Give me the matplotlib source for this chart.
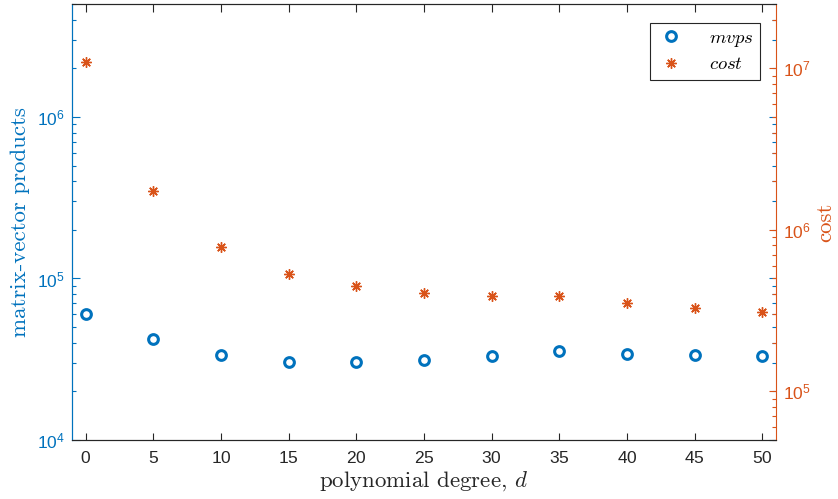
import numpy as np
import matplotlib
matplotlib.use("Agg")
import matplotlib.pyplot as plt
from matplotlib import ticker

# ---------------- dados ----------------
degree = [0, 5, 10, 15, 20, 25, 30, 35, 40, 45, 50]
mvps = [6.02e4, 4.20e4, 3.34e4, 3.04e4, 3.03e4, 3.14e4, 3.31e4, 3.55e4, 3.42e4, 3.37e4, 3.31e4]
cost = [1.09e7, 1.73e6, 7.86e5, 5.33e5, 4.49e5, 4.04e5, 3.89e5, 3.87e5, 3.52e5, 3.29e5, 3.10e5]

BLUE = '#0072BD'
ORANGE = '#D95319'
DARK = '#262626'

plt.rcParams['font.family'] = ['Liberation Sans', 'DejaVu Sans']
plt.rcParams['mathtext.fontset'] = 'cm'
plt.rcParams['axes.formatter.use_mathtext'] = True

fig = plt.figure(figsize=(8.38, 4.99), dpi=100)
ax = fig.add_axes([72 / 838, 1 - 440 / 499, (776 - 72) / 838, (440 - 4) / 499])
ax2 = ax.twinx()

# ---------------- séries ----------------
h1, = ax.plot(degree, mvps, linestyle='none', marker='o', markersize=7,
              markerfacecolor='none', markeredgecolor=BLUE, markeredgewidth=2.2,
              label='$mvps$')
h2, = ax2.plot(degree, cost, linestyle='none', marker=(8, 2, 0), markersize=7.5,
               color=ORANGE, markeredgewidth=1.0, label='$cost$')

ax.set_yscale('log')
ax2.set_yscale('log')
ax.set_xlim(-1, 51)
ax.set_ylim(1e4, 5e6)
ax2.set_ylim(5e4, 2.5e7)
ax.set_xticks(range(0, 51, 5))

for a in (ax, ax2):
    a.yaxis.set_major_locator(ticker.LogLocator(base=10, numticks=10))
    a.yaxis.set_minor_locator(ticker.LogLocator(base=10, subs=np.arange(2, 10), numticks=20))
    a.yaxis.set_minor_formatter(ticker.NullFormatter())

# ---------------- eixos e ticks ----------------
TS = 12.5
ax.tick_params(axis='x', which='both', direction='in', top=True, length=5.4,
               width=0.8, colors=DARK, labelsize=TS, pad=7.5)
ax.tick_params(axis='y', which='major', direction='in', left=True, right=True,
               length=5.4, width=0.8, colors=BLUE, labelsize=TS, pad=5)
ax.tick_params(axis='y', which='minor', direction='in', left=True, right=True,
               length=2.9, width=0.8, colors=BLUE)
ax2.tick_params(axis='y', which='major', direction='in', length=5.4, width=0.8,
                colors=ORANGE, labelsize=TS, pad=5)
ax2.tick_params(axis='y', which='minor', direction='in', length=2.9, width=0.8,
                colors=ORANGE)

for s in ('top', 'bottom'):
    ax.spines[s].set_color(DARK)
    ax2.spines[s].set_color(DARK)
ax.spines['left'].set_color(BLUE)
ax2.spines['left'].set_color(BLUE)
ax2.spines['right'].set_color(ORANGE)
ax.spines['right'].set_visible(False)
for a in (ax, ax2):
    for s in a.spines.values():
        s.set_linewidth(0.8)

ax.set_xlabel('polynomial degree, $d$', fontfamily='cmr10', fontsize=16.5,
              color=DARK, labelpad=2)
ax.set_ylabel('matrix-vector products', fontfamily='cmr10', fontsize=16.5,
              color=BLUE, labelpad=5)
ax2.set_ylabel('cost', fontfamily='cmr10', fontsize=16.5, color=ORANGE, labelpad=4)

leg = ax2.legend(handles=[h1, h2], loc='upper right',
                 bbox_to_anchor=((760 - 72) / 704, (440 - 23) / 436),
                 borderaxespad=0, fontsize=13.5, handlelength=1.6,
                 frameon=True, fancybox=False, edgecolor=DARK, framealpha=1,
                 borderpad=0.35, handletextpad=1.2, labelspacing=0.4)
leg.get_frame().set_linewidth(0.8)

fig.savefig('out.png', dpi=100)
